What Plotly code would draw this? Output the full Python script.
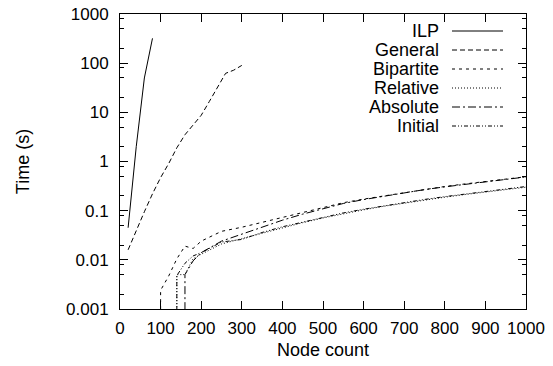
import plotly.graph_objects as go

# ---------------- data ----------------
ilp_x = [20, 40, 60, 80]
ilp_y = [0.045, 2.0, 50, 320]

general_x = [20, 40, 60, 80, 100, 120, 140, 160, 180, 200, 220, 240, 260, 280, 300]
general_y = [0.016, 0.040, 0.095, 0.22, 0.47, 0.91, 1.9, 3.5, 5.5, 8.7, 16.6, 31.6, 62, 72, 90]

bipartite_x = [100, 100, 120, 140, 160, 180, 200, 250, 300, 350, 400, 450, 500,
               550, 600, 650, 700, 750, 800, 850, 900, 950, 1000]
bipartite_y = [0.0001, 0.0024, 0.0047, 0.0105, 0.019, 0.017, 0.024, 0.038, 0.046,
               0.058, 0.073, 0.093, 0.118, 0.145, 0.172, 0.20, 0.235, 0.27, 0.31,
               0.35, 0.39, 0.44, 0.49]

relative_x = [140, 140, 160, 180, 200, 250, 300, 350, 400, 450, 500, 550, 600,
              650, 700, 750, 800, 850, 900, 950, 1000]
relative_y = [0.0001, 0.005, 0.005, 0.0105, 0.013, 0.021, 0.027, 0.035, 0.045,
              0.057, 0.071, 0.087, 0.104, 0.123, 0.143, 0.165, 0.188, 0.213,
              0.24, 0.268, 0.30]

absolute_x = [160, 160, 180, 200, 250, 300, 350, 400, 450, 500, 550, 600, 650,
              700, 750, 800, 850, 900, 950, 1000]
absolute_y = [0.0001, 0.005, 0.0095, 0.014, 0.024, 0.033, 0.047, 0.064, 0.085,
              0.11, 0.14, 0.168, 0.198, 0.232, 0.268, 0.305, 0.345, 0.39, 0.435,
              0.485]

initial_x = [140, 140, 160, 180, 200, 250, 300, 350, 400, 450, 500, 550, 600,
             650, 700, 750, 800, 850, 900, 950, 1000]
initial_y = [0.0001, 0.0048, 0.0085, 0.012, 0.014, 0.023, 0.026, 0.036, 0.047,
             0.059, 0.073, 0.09, 0.107, 0.126, 0.147, 0.169, 0.193, 0.218, 0.245,
             0.274, 0.31]

series_names = ["ILP", "General", "Bipartite", "Relative", "Absolute", "Initial"]

x_tick_vals = [0, 100, 200, 300, 400, 500, 600, 700, 800, 900, 1000]
y_tick_vals = [0.001, 0.01, 0.1, 1, 10, 100, 1000]
y_tick_text = ["0.001", "0.01", "0.1", "1", "10", "100", "1000"]
y_minor_vals = [m * 10.0 ** k for k in range(-3, 3) for m in (2, 5, 8)]

# ---------------- styles ----------------
FONT = "Liberation Sans, Arial, sans-serif"
FS_TICK = 17
FS_TITLE = 18
FS_LEG = 18
dashes = ["solid", "5px,3px", "3px,4px", "1px,2px", "8px,3px,2px,3px",
          "4px,2px,1px,2px,1px,2px"]
data = [(ilp_x, ilp_y), (general_x, general_y), (bipartite_x, bipartite_y),
        (relative_x, relative_y), (absolute_x, absolute_y), (initial_x, initial_y)]

W, H = 553, 366
L, R, T, B = 120, 27, 14, 57
PW, PH = W - L - R, H - T - B

fig = go.Figure()
for name, (xs, ys), d in zip(series_names, data, dashes):
    fig.add_trace(go.Scatter(x=xs, y=ys, mode="lines", name=name,
                             line=dict(color="black", width=1, dash=d),
                             showlegend=False))

# legend drawn gnuplot-style: right-aligned text, sample to the right
def px2paper_x(px):
    return (px - L) / PW

def py2paper_y(py):
    return (T + PH - py) / PH

for i, (name, d) in enumerate(zip(series_names, dashes)):
    ry = 31 + 19 * i
    fig.add_annotation(x=px2paper_x(441), y=py2paper_y(ry), xref="paper", yref="paper",
                       text=name, showarrow=False, xanchor="right", yanchor="middle",
                       font=dict(family=FONT, size=FS_LEG, color="black"))
    fig.add_shape(type="line", xref="paper", yref="paper",
                  x0=px2paper_x(452), x1=px2paper_x(503),
                  y0=py2paper_y(ry), y1=py2paper_y(ry),
                  line=dict(color="black", width=1, dash=d))

axis_common = dict(showline=True, linecolor="black", linewidth=1, mirror="allticks",
                   ticks="inside", tickcolor="black", tickwidth=1, ticklen=8,
                   showgrid=False, zeroline=False,
                   tickfont=dict(family=FONT, size=FS_TICK, color="black"))

fig.update_xaxes(range=[0, 1000], tickmode="array", tickvals=x_tick_vals,
                 ticklabelstandoff=4,
                 title=dict(text="Node count", font=dict(family=FONT, size=FS_TITLE, color="black"),
                            standoff=5),
                 **axis_common)
fig.update_yaxes(type="log", range=[-3, 3], tickmode="array", tickvals=y_tick_vals,
                 ticktext=y_tick_text, ticklabelstandoff=7,
                 minor=dict(tickmode="array", tickvals=y_minor_vals, ticks="inside",
                            ticklen=4, tickcolor="black", tickwidth=1, showgrid=False),
                 title=dict(text="Time (s)", font=dict(family=FONT, size=FS_TITLE, color="black"),
                            standoff=31),
                 **axis_common)

fig.update_layout(width=W, height=H, margin=dict(l=L, r=R, t=T, b=B, autoexpand=False),
                  paper_bgcolor="white", plot_bgcolor="white",
                  font=dict(family=FONT, size=FS_TICK, color="black"))

fig.write_html("out.html")
